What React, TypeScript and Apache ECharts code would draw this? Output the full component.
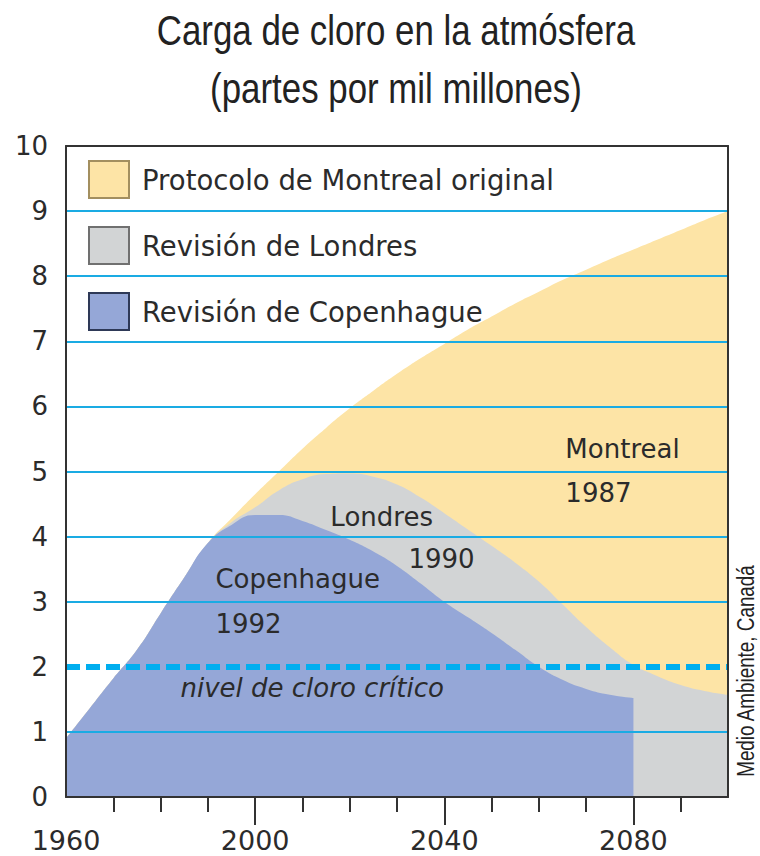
import React, { useEffect, useRef } from "react";
import * as echarts from "echarts";

// ---------- data ----------
const years = [
  1960, 1965, 1970, 1975, 1980, 1985, 1990, 1995, 2000, 2005, 2010, 2015, 2020, 2025, 2030,
  2035, 2040, 2045, 2050, 2055, 2060, 2065, 2070, 2075, 2080, 2085, 2090, 2095, 2100,
];
const montreal = [
  0.9, 1.36, 1.82, 2.26, 2.82, 3.37, 3.9, 4.28, 4.65, 5.0, 5.35, 5.67, 5.97, 6.24, 6.5,
  6.74, 6.96, 7.18, 7.38, 7.58, 7.76, 7.94, 8.1, 8.26, 8.41, 8.56, 8.71, 8.86, 9.0,
];
const londres = [
  0.9, 1.36, 1.82, 2.26, 2.82, 3.37, 3.9, 4.22, 4.45, 4.71, 4.88, 4.96, 4.97, 4.92, 4.8,
  4.6, 4.36, 4.11, 3.86, 3.6, 3.31, 2.96, 2.61, 2.3, 2.03, 1.86, 1.72, 1.63, 1.57,
];
const copenhague = [
  0.9, 1.36, 1.82, 2.26, 2.82, 3.37, 3.9, 4.18, 4.33, 4.33, 4.24, 4.1, 3.95, 3.77, 3.55,
  3.28, 3.0, 2.76, 2.52, 2.26, 2.0, 1.8, 1.66, 1.57, 1.52, null, null, null, null,
];

const seriesNames = [
  "Protocolo de Montreal original",
  "Revisión de Londres",
  "Revisión de Copenhague",
];

const gridLevels = [1, 3, 4, 5, 6, 7, 8, 9];
const criticalLevel = 2;
const shortTickYears = [1970, 1980, 1990, 2010, 2020, 2030, 2050, 2060, 2070, 2090];
const longTickYears = [2000, 2040, 2080];
const labelYears = [1960, 2000, 2040, 2080];

const montrealLabels = [
  { text: "Montreal", coord: [2065.5, 5.35] },
  { text: "1987", coord: [2065.5, 4.67] },
];
const londresLabels = [
  { text: "Londres", coord: [2015.8, 4.3] },
  { text: "1990", coord: [2032.3, 3.66] },
];
const copenhagueLabels = [
  { text: "Copenhague", coord: [1991.5, 3.35] },
  { text: "1992", coord: [1991.5, 2.66] },
];
const criticalLabel = { text: "nivel de cloro crítico", coord: [1984.1, 1.68] };

// ---------- styles ----------
const YELLOW = "#fde4a6";
const GRAY = "#d2d4d5";
const BLUE = "#95a7d7";
const GRID_BLUE = "#1aabe3";
const DASH_BLUE = "#00aeef";
const INK = "#2b2b2b";
const SANS = "'DejaVu Sans', sans-serif";
const HELV = "'Liberation Sans', Arial, sans-serif";

function pair(x: number[], y: (number | null)[]) {
  return x.map((v, i) => [v, y[i]]);
}

function labelPoints(items: { text: string; coord: number[] }[], italic = false) {
  return items.map((it) => ({
    coord: it.coord,
    symbol: "circle",
    symbolSize: 1,
    itemStyle: { color: "rgba(0,0,0,0)" },
    label: {
      show: true,
      position: "right",
      distance: 0,
      formatter: it.text,
      fontSize: 26,
      fontFamily: SANS,
      fontStyle: italic ? "italic" : "normal",
      color: INK,
    },
  }));
}

function areaSeries(name: string, data: any[], color: string, labels: any[]) {
  return {
    name,
    type: "line",
    data,
    smooth: 0.5,
    showSymbol: false,
    symbol: "none",
    color,
    itemStyle: { color },
    lineStyle: { width: 0, color },
    areaStyle: { color, opacity: 1 },
    silent: true,
    markPoint: { silent: true, data: labels },
  };
}

export default function App() {
  const ref = useRef<HTMLDivElement>(null);

  useEffect(() => {
    if (!ref.current) return;
    const chart = echarts.init(ref.current, null, { renderer: "svg" });

    const axisLineStyle = { color: "#333", width: 2 };

    const option: any = {
      animation: false,
      backgroundColor: "#ffffff",
      grid: {
        left: 66,
        right: 32,
        top: 146,
        bottom: 59,
        containLabel: false,
        outerBoundsMode: "none",
      },
      xAxis: [
        {
          type: "value",
          min: 1960,
          max: 2100,
          position: "bottom",
          z: 10,
          axisLine: { show: true, onZero: false, lineStyle: axisLineStyle },
          axisTick: {
            show: true,
            customValues: shortTickYears,
            length: 15,
            lineStyle: axisLineStyle,
          },
          axisLabel: {
            show: true,
            customValues: labelYears,
            formatter: (v: number) => String(v),
            margin: 32,
            fontSize: 27,
            lineHeight: 22,
            fontFamily: SANS,
            color: INK,
          },
          splitLine: { show: false },
        },
        {
          type: "value",
          min: 1960,
          max: 2100,
          position: "bottom",
          offset: 0,
          z: 10,
          axisLine: { show: false, onZero: false },
          axisTick: {
            show: true,
            customValues: longTickYears,
            length: 28,
            lineStyle: axisLineStyle,
          },
          axisLabel: { show: false },
          splitLine: { show: false },
        },
        {
          type: "value",
          min: 1960,
          max: 2100,
          position: "top",
          z: 10,
          axisLine: { show: true, onZero: false, lineStyle: axisLineStyle },
          axisTick: { show: false },
          axisLabel: { show: false },
          splitLine: { show: false },
        },
      ],
      yAxis: [
        {
          type: "value",
          min: 0,
          max: 10,
          interval: 1,
          position: "left",
          z: 10,
          axisLine: { show: true, onZero: false, lineStyle: axisLineStyle },
          axisTick: { show: false },
          axisLabel: {
            margin: 18,
            fontSize: 26,
            fontFamily: SANS,
            color: INK,
            padding: [0, 0, 6, 0],
          },
          splitLine: { show: false },
        },
        {
          type: "value",
          min: 0,
          max: 10,
          interval: 1,
          position: "right",
          z: 10,
          axisLine: { show: true, onZero: false, lineStyle: axisLineStyle },
          axisTick: { show: false },
          axisLabel: { show: false },
          splitLine: { show: false },
        },
      ],
      legend: {
        orient: "vertical",
        left: 83,
        top: 155,
        itemWidth: 40,
        itemHeight: 37,
        itemGap: 27,
        icon: "rect",
        selectedMode: false,
        textStyle: {
          fontSize: 27.5,
          fontFamily: SANS,
          color: INK,
          padding: [0, 0, 4, 8],
        },
        data: [
          { name: seriesNames[0], itemStyle: { color: YELLOW, borderColor: "#a38f5f", borderWidth: 2 } },
          { name: seriesNames[1], itemStyle: { color: GRAY, borderColor: "#707070", borderWidth: 2 } },
          { name: seriesNames[2], itemStyle: { color: BLUE, borderColor: "#2e3957", borderWidth: 2 } },
        ],
      },
      series: [
        areaSeries(seriesNames[0], pair(years, montreal), YELLOW, labelPoints(montrealLabels)),
        areaSeries(seriesNames[1], pair(years, londres), GRAY, labelPoints(londresLabels)),
        {
          ...areaSeries(
            seriesNames[2],
            pair(years, copenhague),
            BLUE,
            labelPoints(copenhagueLabels).concat(labelPoints([criticalLabel], true))
          ),
          markLine: {
            silent: true,
            symbol: ["none", "none"],
            label: { show: false },
            data: [
              ...gridLevels.map((v) => ({
                yAxis: v,
                lineStyle: { color: GRID_BLUE, width: 2, type: "solid" },
              })),
              {
                yAxis: criticalLevel,
                lineStyle: { color: DASH_BLUE, width: 6, type: [14, 6] },
              },
            ],
          },
        },
      ],
      graphic: [
        {
          type: "text",
          x: 396,
          y: 30,
          scaleX: 0.83,
          style: {
            text: "Carga de cloro en la atmósfera",
            fontSize: 42,
            fontFamily: HELV,
            fill: "#222",
            align: "center",
            verticalAlign: "middle",
          },
        },
        {
          type: "text",
          x: 396,
          y: 88,
          scaleX: 0.83,
          style: {
            text: "(partes por mil millones)",
            fontSize: 42,
            fontFamily: HELV,
            fill: "#222",
            align: "center",
            verticalAlign: "middle",
          },
        },
        {
          type: "text",
          x: 746,
          y: 671,
          rotation: Math.PI / 2,
          scaleX: 0.82,
          style: {
            text: "Medio Ambiente, Canadá",
            fontSize: 23,
            lineHeight: 20,
            fontFamily: HELV,
            fill: "#222",
            align: "center",
            verticalAlign: "middle",
          },
        },
      ],
    };

    chart.setOption(option);
    return () => chart.dispose();
  }, []);

  return (
    <div
      ref={ref}
      style={{ position: "fixed", left: 0, top: 0, width: 760, height: 856, background: "#fff" }}
    />
  );
}
